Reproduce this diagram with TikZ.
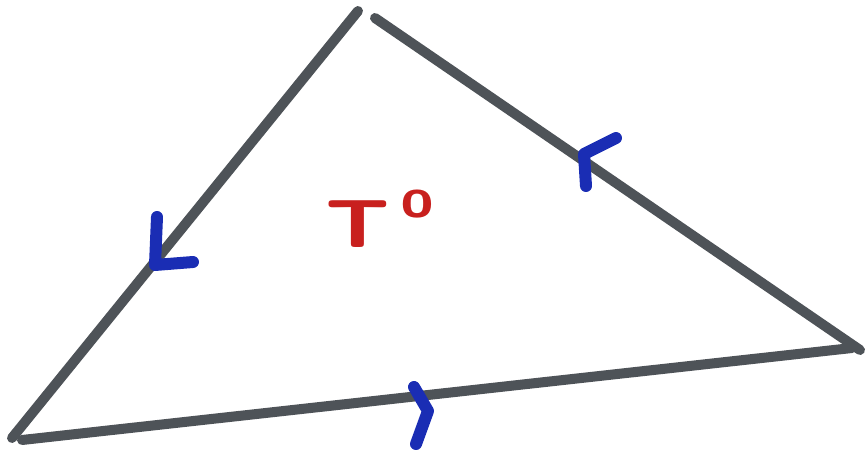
\documentclass[tikz,border=0pt]{standalone}
\usetikzlibrary{calc}
\definecolor{triGray}{HTML}{4E5358}
\definecolor{triBlue}{HTML}{1A2DB4}
\definecolor{triRed}{HTML}{C8201E}
\tikzset{
  tri edge/.style={draw=triGray, line width=10pt, line cap=round, line join=round},
  tri mark/.style={draw=triBlue, line width=12pt, line cap=round, line join=round},
  tri label/.style={font=\sffamily\bfseries, text=triRed, inner sep=0pt},
}
\begin{document}
\begin{tikzpicture}[x=1pt, y=-1pt]
  \useasboundingbox (0,0) rectangle (868,454);
  % Corners of the triangle (the pen lifts at each one)
  \coordinate (leftLow) at (12,438);
  \coordinate (leftTop) at (358,11);
  \coordinate (rightTop) at (375,18);
  \coordinate (rightEnd) at (860,350);
  \coordinate (baseStart) at (22,440);
  \coordinate (baseEnd) at (852,348);
  % Edges
  \draw[tri edge] (leftLow) -- (leftTop);
  \draw[tri edge] (rightTop) -- (rightEnd);
  \draw[tri edge] (baseStart) -- (baseEnd);
  % Orientation marks
  \coordinate (markL) at (155,265);
  \coordinate (markR) at (584,154);
  \coordinate (markB) at (428,411);
  \draw[tri mark] ($(markL)+(2,-48)$) -- (markL) -- ++(38,-3);
  \draw[tri mark] ($(markR)+(32,-16)$) -- (markR) -- ++(2,32);
  \draw[tri mark] ($(markB)+(-14,-24)$) -- (markB) -- ++(-12,33);
  % Label
  \node[tri label, anchor=base west] (tLabel) at (325,248)
    {\fontsize{68}{68}\selectfont\scalebox{1.3}[1]{T}\hspace{12pt}\raisebox{30pt}{\fontsize{58}{58}\selectfont o}};
\end{tikzpicture}
\end{document}
